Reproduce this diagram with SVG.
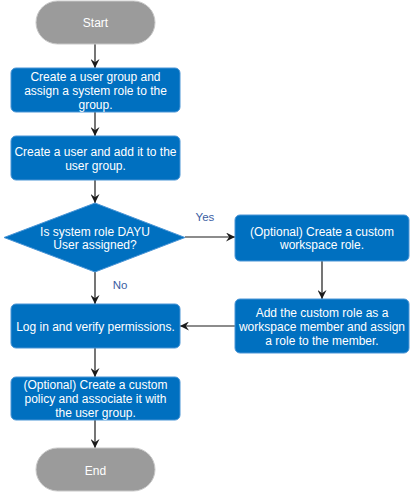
<svg xmlns="http://www.w3.org/2000/svg" width="410" height="492" viewBox="0 0 410 492">
<defs>
<style>
.term{fill:#9b9b9b;stroke:#c8c8c8;stroke-width:1}
.box{fill:#0070c0;stroke:#4a95d6;stroke-width:1}
.t{font-family:"Liberation Sans",Arial,sans-serif;font-size:12px;fill:#ffffff;text-anchor:middle}
.lbl{font-family:"Liberation Sans",Arial,sans-serif;font-size:11.5px;fill:#3b5ea3;text-anchor:middle}
.c{stroke:#1a1a1a;stroke-width:1.2;fill:none;marker-end:url(#ah)}
</style>
<marker id="ah" viewBox="0 0 10 10" refX="10" refY="5" markerWidth="9" markerHeight="9" markerUnits="userSpaceOnUse" orient="auto">
<path d="M0,0 L10,5 L0,10 L3.5,5 z" fill="#1a1a1a"/>
</marker>
</defs>
<g id="connectors">
<path class="c" d="M95,44 V68"/>
<path class="c" d="M95,112 V136"/>
<path class="c" d="M95,180 V203"/>
<path class="c" d="M95,272 V304"/>
<path class="c" d="M185,237 H235"/>
<path class="c" d="M322,261 V299"/>
<path class="c" d="M235,326 H180"/>
<path class="c" d="M95,348 V377"/>
<path class="c" d="M95,420 V448"/>
<text class="lbl" x="205" y="221">Yes</text>
<text class="lbl" x="120" y="289">No</text>
</g>
<g id="start">
<rect class="term" x="36" y="1" width="119" height="43" rx="21.5"/>
<text class="t" x="95.5" y="27">Start</text>
</g>
<g id="create-group">
<rect class="box" x="11" y="68" width="169" height="44" rx="5"/>
<text class="t" x="95.5" y="81">Create a user group and</text>
<text class="t" x="95.5" y="95">assign a system role to the</text>
<text class="t" x="95.5" y="109">group.</text>
</g>
<g id="create-user">
<rect class="box" x="11" y="136" width="169" height="44" rx="5"/>
<text class="t" x="95.5" y="156">Create a user and add it to the</text>
<text class="t" x="95.5" y="170">user group.</text>
</g>
<g id="decision">
<path class="box" d="M95,203 L185,237.5 L95,272 L4,237.5 Z" stroke-linejoin="round"/>
<text class="t" x="95" y="236">Is system role DAYU</text>
<text class="t" x="95" y="249">User assigned?</text>
</g>
<g id="custom-role">
<rect class="box" x="235" y="215" width="174" height="46" rx="5"/>
<text class="t" x="322" y="236">(Optional) Create a custom</text>
<text class="t" x="322" y="249">workspace role.</text>
</g>
<g id="add-member">
<rect class="box" x="235" y="299" width="174" height="54" rx="5"/>
<text class="t" x="322" y="317">Add the custom role as a</text>
<text class="t" x="322" y="331">workspace member and assign</text>
<text class="t" x="322" y="345">a role to the member.</text>
</g>
<g id="login">
<rect class="box" x="11" y="304" width="169" height="44" rx="5"/>
<text class="t" x="95.5" y="331">Log in and verify permissions.</text>
</g>
<g id="policy">
<rect class="box" x="11" y="377" width="169" height="43" rx="5"/>
<text class="t" x="95.5" y="389">(Optional) Create a custom</text>
<text class="t" x="95.5" y="403">policy and associate it with</text>
<text class="t" x="95.5" y="417">the user group.</text>
</g>
<g id="end">
<rect class="term" x="36" y="448" width="119" height="43" rx="21.5"/>
<text class="t" x="95.5" y="475">End</text>
</g>
</svg>
